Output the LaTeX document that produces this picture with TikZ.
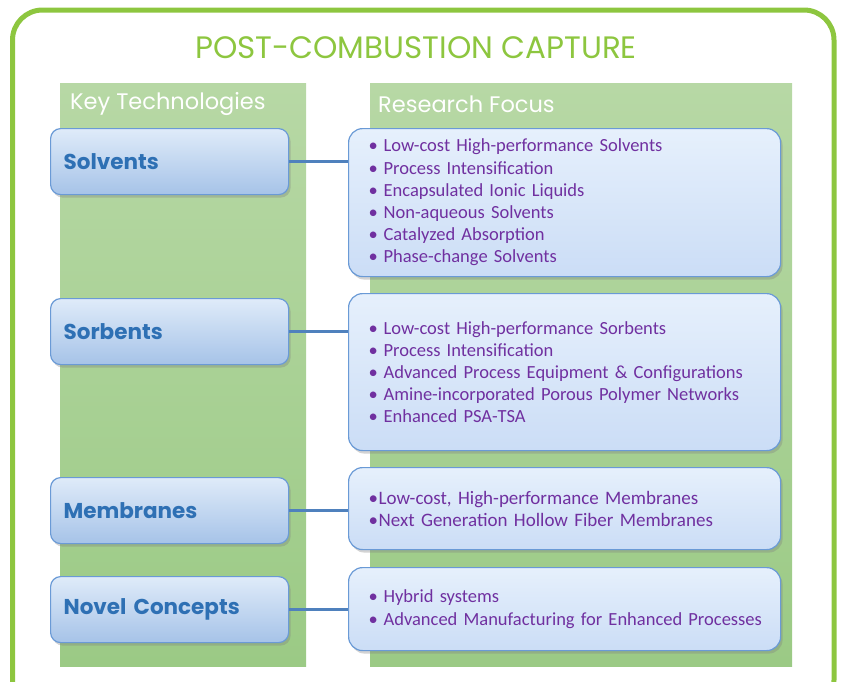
\documentclass[tikz,border=0pt]{standalone}
\usepackage{fontspec}
\setmainfont{Carlito}
\newfontfamily\gothicfont{Poppins}
\usetikzlibrary{shadows}
\definecolor{framegreen}{RGB}{141,198,63}
\definecolor{coltop}{RGB}{183,216,165}
\definecolor{colbottom}{RGB}{155,202,133}
\definecolor{techtop}{RGB}{223,235,249}
\definecolor{techbottom}{RGB}{166,195,232}
\definecolor{focustop}{RGB}{230,240,252}
\definecolor{focusbottom}{RGB}{203,221,246}
\definecolor{boxline}{RGB}{106,154,214}
\definecolor{techblue}{RGB}{46,112,180}
\definecolor{linkblue}{RGB}{79,129,189}
\definecolor{itempurple}{RGB}{112,48,160}
\newcommand{\itm}[2][19pt]{\makebox[#1][l]{\hspace{4pt}\textbullet}#2}

\begin{document}
\begin{tikzpicture}[
  x=1pt, y=-1pt,
  column/.style={top color=coltop, bottom color=colbottom, draw=none},
  header/.style={anchor=west, inner sep=0pt, text=white, font=\gothicfont\fontsize{22.5}{26}\selectfont},
  tech/.style={draw=boxline, line width=1.2pt, rounded corners=10pt, top color=techtop, bottom color=techbottom,
    anchor=north west, minimum width=238pt, minimum height=66pt, inner xsep=13pt, text width=212pt, align=left,
    text=techblue, font=\gothicfont\bfseries\fontsize{21.5}{24}\selectfont,
    drop shadow={shadow xshift=2pt, shadow yshift=-3pt, opacity=0.35}},
  focus/.style={draw=boxline, line width=1.2pt, rounded corners=14pt, top color=focustop, bottom color=focusbottom,
    anchor=north west, minimum width=432pt, inner xsep=16pt, text width=400pt, align=left,
    text=itempurple, font=\fontsize{18.5}{22.2}\selectfont,
    drop shadow={shadow xshift=2pt, shadow yshift=-3pt, opacity=0.35}},
  link/.style={draw=linkblue, line width=3pt}
]

\useasboundingbox (0,0) rectangle (841,681);
\draw[framegreen, line width=5pt, rounded corners=30pt] (12.5,10) rectangle (834,710);
\node[text=framegreen, font=\gothicfont\fontsize{31}{36}\selectfont] (title) at (416,48) {POST-COMBUSTION CAPTURE};

\fill[column] (60,83) rectangle (306,666);
\fill[column] (370,83) rectangle (792,666);
\node[header] (keyhead) at (70,104) {Key Technologies};
\node[header] (reshead) at (378,104) {Research Focus};

\node[tech] (solv) at (50,128) {Solvents};
\node[tech] (sorb) at (50,298) {Sorbents};
\node[tech] (memb) at (50,477) {Membranes};
\node[tech] (novel) at (50,576) {Novel Concepts};

\node[focus, minimum height=148pt] (solvF) at (348,128) {\itm{Low-cost High-performance Solvents}\\
  \itm{Process Intensification}\\ \itm{Encapsulated Ionic Liquids}\\ \itm{Non-aqueous Solvents}\\
  \itm{Catalyzed Absorption}\\ \itm{Phase-change Solvents}};
\node[focus, minimum height=157pt] (sorbF) at (348,293) {\itm{Low-cost High-performance Sorbents}\\
  \itm{Process Intensification}\\ \itm{Advanced Process Equipment \& Configurations}\\
  \itm{Amine-incorporated Porous Polymer Networks}\\ \itm{Enhanced PSA-TSA}};
\node[focus, minimum height=82pt, font=\fontsize{19}{22.2}\selectfont] (membF) at (348,467) {\itm[14pt]{Low-cost, High-performance Membranes}\\
  \itm[14pt]{Next Generation Hollow Fiber Membranes}};
\node[focus, minimum height=83pt] (novelF) at (348,567) {\itm{Hybrid systems}\\
  \itm{Advanced Manufacturing for Enhanced Processes}};

\draw[link] (solv.east) -- (solv.east -| solvF.west);
\draw[link] (sorb.east) -- (sorb.east -| sorbF.west);
\draw[link] (memb.east) -- (memb.east -| membF.west);
\draw[link] (novel.east) -- (novel.east -| novelF.west);

\end{tikzpicture}
\end{document}
